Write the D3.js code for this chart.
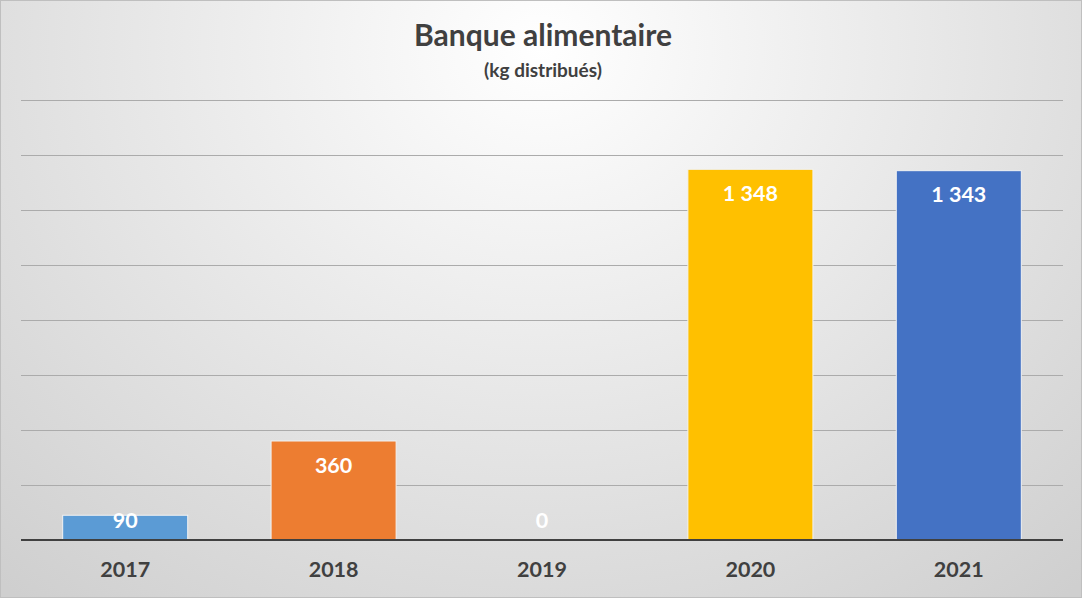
<!DOCTYPE html>
<html>
<head>
<meta charset="utf-8">
<script src="https://cdn.jsdelivr.net/npm/d3@7"></script>
<style>
  html, body { margin: 0; padding: 0; background: #fff; }
  svg { display: block; }
</style>
</head>
<body>
<svg id="chart"></svg>
<script>
// chart data
var years = ["2017", "2018", "2019", "2020", "2021"];
var kgValues = [90, 360, 0, 1348, 1343];
var barColors = ["#5b9bd5", "#ed7d31", "#a5a5a5", "#ffc000", "#4472c4"];
var gridTicks = [0, 200, 400, 600, 800, 1000, 1200, 1400, 1600];

var width = 1082, height = 598;
var margin = {top: 100, right: 19, bottom: 58, left: 21};

var svg = d3.select("#chart")
    .attr("width", width)
    .attr("height", height);

// background gradient like the excel chart area
var defs = svg.append("defs");
var grad = defs.append("radialGradient")
    .attr("id", "bg")
    .attr("cx", "50%").attr("cy", "8%")
    .attr("r", "75%")
    .attr("gradientTransform", "translate(0.5 0.08) scale(1 1.6) translate(-0.5 -0.08)");
grad.append("stop").attr("offset", "0%").attr("stop-color", "#ffffff");
grad.append("stop").attr("offset", "100%").attr("stop-color", "#cfcfcf");

svg.append("rect")
    .attr("x", 0.5).attr("y", 0.5)
    .attr("width", width - 1).attr("height", height - 1)
    .attr("fill", "url(#bg)")
    .attr("stroke", "#bfbfbf");

var x = d3.scaleBand()
    .domain(years)
    .range([margin.left, width - margin.right])
    .paddingInner(0.4)
    .paddingOuter(0.2);

var y = d3.scaleLinear()
    .domain([0, 1600])
    .range([height - margin.bottom, margin.top]);

var fr = d3.formatLocale({decimal: ",", thousands: "\u00a0", grouping: [3], currency: ["", " €"]});
var fmt = fr.format(",d");

// gridlines
svg.append("g")
    .selectAll("line")
    .data(gridTicks.filter(d => d > 0))
    .enter()
    .append("line")
        .attr("x1", margin.left)
        .attr("x2", width - margin.right)
        .attr("y1", d => Math.round(y(d)) + 0.5)
        .attr("y2", d => Math.round(y(d)) + 0.5)
        .attr("stroke", "#ababab")
        .attr("stroke-width", 1.2);

// bars
svg.append("g")
    .selectAll("rect")
    .data(kgValues)
    .enter()
    .append("rect")
        .attr("x", (d, i) => x(years[i]))
        .attr("y", d => y(d))
        .attr("width", x.bandwidth())
        .attr("height", d => y(0) - y(d))
        .attr("fill", (d, i) => barColors[i])
        .attr("stroke", d => d > 0 ? "#f2f2f2" : "none")
        .attr("stroke-width", 1);

// baseline axis
var xAxis = d3.axisBottom(x).tickSize(0).tickPadding(22);
var axisG = svg.append("g")
    .attr("transform", `translate(0, ${y(0)})`)
    .call(xAxis);
axisG.select(".domain")
    .attr("stroke", "#404040")
    .attr("stroke-width", 2.2)
    .attr("d", `M${margin.left},0H${width - margin.right}`);
axisG.selectAll("text")
    .attr("fill", "#404040")
    .style("font-family", "Lato, 'Open Sans', sans-serif")
    .style("font-weight", "bold")
    .style("font-size", "21.5px");

// value labels, inside end, kept within plot
svg.append("g")
    .selectAll("text")
    .data(kgValues)
    .enter()
    .append("text")
        .attr("x", (d, i) => x(years[i]) + x.bandwidth() / 2)
        .attr("y", d => Math.min(y(d) + 24, y(0) - 20))
        .attr("dy", "0.35em")
        .attr("text-anchor", "middle")
        .attr("fill", "#ffffff")
        .style("font-family", "Lato, 'Open Sans', sans-serif")
        .style("font-weight", "bold")
        .style("font-size", "21.5px")
        .text(d => fmt(d));

// titles
svg.append("text")
    .attr("x", width / 2 + 2)
    .attr("y", 46)
    .attr("text-anchor", "middle")
    .attr("fill", "#404040")
    .style("font-family", "Lato, 'Open Sans', sans-serif")
    .style("font-weight", "bold")
    .style("font-size", "30px")
    .text("Banque alimentaire");

svg.append("text")
    .attr("x", width / 2 + 2)
    .attr("y", 77)
    .attr("text-anchor", "middle")
    .attr("fill", "#404040")
    .style("font-family", "Lato, 'Open Sans', sans-serif")
    .style("font-weight", "bold")
    .style("font-size", "19px")
    .text("(kg distribués)");
</script>
</body>
</html>
